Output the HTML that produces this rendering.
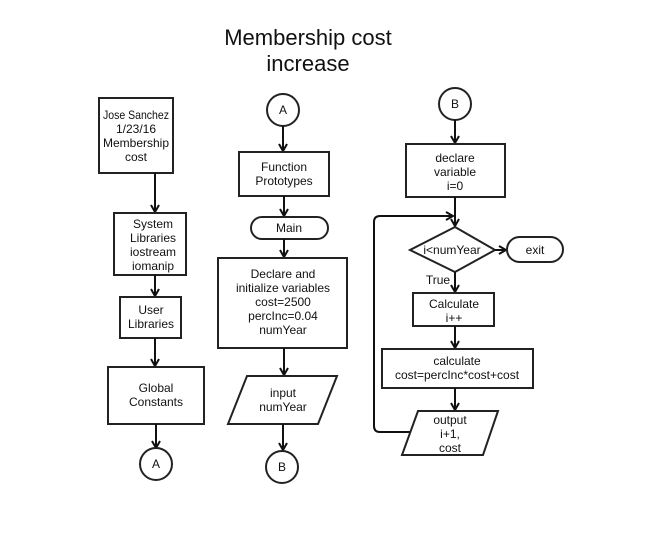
<!DOCTYPE html>
<html><head><meta charset="utf-8"><style>
html,body{margin:0;padding:0;background:#fff;}
svg{display:block;}
text{font-family:"Liberation Sans",Arial,sans-serif;font-size:12px;fill:#111;text-anchor:middle;}
.s{fill:#fff;stroke:#222;stroke-width:2;}
.l{stroke:#111;stroke-width:2;fill:none;}
</style></head><body>
<svg width="651" height="533" viewBox="0 0 651 533" xmlns="http://www.w3.org/2000/svg">
<defs><marker id="a" markerWidth="10" markerHeight="10" refX="8" refY="5" orient="auto" markerUnits="userSpaceOnUse"><path d="M1,1 L8,5 L1,9" fill="none" stroke="#111" stroke-width="2"/></marker></defs>
<text x="308" y="45" style="font-size:22px">Membership cost</text>
<text x="308" y="71" style="font-size:22px">increase</text>

<!-- left column -->
<rect class="s" x="99" y="98" width="74" height="75"/>
<text x="136" y="119" textLength="66" lengthAdjust="spacingAndGlyphs">Jose Sanchez</text><text x="136" y="133">1/23/16</text><text x="136" y="147">Membership</text><text x="136" y="161">cost</text>
<line class="l" x1="155" y1="173" x2="155" y2="212" marker-end="url(#a)"/>
<rect class="s" x="114" y="213" width="72" height="62"/>
<text x="153" y="228">System</text><text x="153" y="242">Libraries</text><text x="153" y="256">iostream</text><text x="153" y="270">iomanip</text>
<line class="l" x1="155" y1="275" x2="155" y2="296" marker-end="url(#a)"/>
<rect class="s" x="120" y="297" width="61" height="41"/>
<text x="151" y="314">User</text><text x="151" y="328">Libraries</text>
<line class="l" x1="155" y1="338" x2="155" y2="366" marker-end="url(#a)"/>
<rect class="s" x="108" y="367" width="96" height="57"/>
<text x="156" y="392">Global</text><text x="156" y="406">Constants</text>
<line class="l" x1="156" y1="424" x2="156" y2="448" marker-end="url(#a)"/>
<circle class="s" cx="156" cy="464" r="16"/><text x="156" y="468">A</text>

<!-- middle column -->
<circle class="s" cx="283" cy="110" r="16"/><text x="283" y="114">A</text>
<line class="l" x1="283" y1="126" x2="283" y2="151" marker-end="url(#a)"/>
<rect class="s" x="239" y="152" width="90" height="44"/>
<text x="284" y="171">Function</text><text x="284" y="185">Prototypes</text>
<line class="l" x1="284" y1="196" x2="284" y2="216" marker-end="url(#a)"/>
<rect class="s" x="251" y="217" width="77" height="22" rx="11"/>
<text x="289" y="232">Main</text>
<line class="l" x1="284" y1="239" x2="284" y2="257" marker-end="url(#a)"/>
<rect class="s" x="218" y="258" width="129" height="90"/>
<text x="283" y="278">Declare and</text><text x="283" y="292">initialize variables</text><text x="283" y="306">cost=2500</text><text x="283" y="320">percInc=0.04</text><text x="283" y="334">numYear</text>
<line class="l" x1="284" y1="348" x2="284" y2="375" marker-end="url(#a)"/>
<polygon class="s" points="247,376 337,376 318,424 228,424"/>
<text x="283" y="397">input</text><text x="283" y="411">numYear</text>
<line class="l" x1="283" y1="424" x2="283" y2="450" marker-end="url(#a)"/>
<circle class="s" cx="282" cy="467" r="16"/><text x="282" y="471">B</text>

<!-- right column -->
<circle class="s" cx="455" cy="104" r="16"/><text x="455" y="108">B</text>
<line class="l" x1="455" y1="120" x2="455" y2="143" marker-end="url(#a)"/>
<rect class="s" x="406" y="144" width="99" height="53"/>
<text x="455" y="162">declare</text><text x="455" y="176">variable</text><text x="455" y="190">i=0</text>
<line class="l" x1="455" y1="197" x2="455" y2="226" marker-end="url(#a)"/>
<path class="l" d="M410,432 L380,432 Q374,432 374,426 L374,222 Q374,216 380,216 L453,216" marker-end="url(#a)"/>
<polygon class="s" points="455,227 495,250 455,272 410,250"/>
<text x="452" y="254">i&lt;numYear</text>
<line class="l" x1="495" y1="250" x2="506" y2="250" marker-end="url(#a)"/>
<rect class="s" x="507" y="237" width="56" height="25" rx="12.5"/>
<text x="535" y="254">exit</text>
<text x="438" y="284">True</text>
<line class="l" x1="455" y1="272" x2="455" y2="292" marker-end="url(#a)"/>
<rect class="s" x="413" y="293" width="81" height="33"/>
<text x="454" y="308">Calculate</text><text x="454" y="322">i++</text>
<line class="l" x1="455" y1="326" x2="455" y2="348" marker-end="url(#a)"/>
<rect class="s" x="382" y="349" width="151" height="39"/>
<text x="457" y="365">calculate</text><text x="457" y="379">cost=percInc*cost+cost</text>
<line class="l" x1="455" y1="388" x2="455" y2="410" marker-end="url(#a)"/>
<polygon class="s" points="418,411 498,411 483,455 402,455"/>
<text x="450" y="424">output</text><text x="450" y="438">i+1,</text><text x="450" y="452">cost</text>
</svg>
</body></html>
